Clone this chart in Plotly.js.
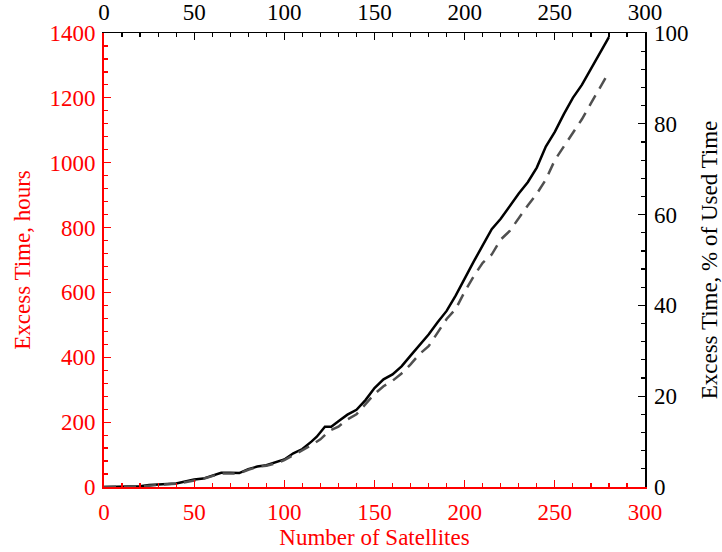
<!DOCTYPE html>
<html>
<head>
<meta charset="utf-8">
<script src="https://cdn.plot.ly/plotly-3.0.1.min.js"></script>
<style>html,body{margin:0;padding:0;background:#fff;}#chart{width:722px;height:552px;}</style>
</head>
<body>
<div id="chart"></div>
<script>
// Number of satellites and excess time (hours), left axis
const satsHours = [0,5,10,15,20,25,30,35,40,45,50,55,60,65,70,75,80,85,90,95,100,105,110,115,118,122.5,126,130,135,140,145,150,155,160,165,170,175,180,185,190,195,200,205,210,215,220,225,230,235,240,245,250,255,260,265,270,275,280];
const excessHours = [0,0,0,1,2,6,8,9,11,17,23,26,36,44,44,43,55,63,67,75,85,104,117,140,155,186,186,203,223,238,268,305,332,347,372,405,438,470,508,543,590,645,695,745,795,827,868,905,940,985,1050,1095,1150,1200,1240,1290,1340,1387];

// Excess time as % of used time, right axis
const satsPct = [0,10,20,25,30,35,40,45,50,55,60,65,70,75,80,85,90,95,100,105,110,115,120,125,130,135,140,145,150,155,160,165,170,175,180,185,190,195,200,205,210,215,220,225,230,235,240,245,250,255,260,265,270,275,280];
const excessPct = [0,0,0.1,0.3,0.5,0.6,0.7,1.1,1.5,1.8,2.4,3.0,3.0,3.0,3.8,4.4,4.7,5.2,5.9,7.0,8.0,9.2,10.5,12.4,13.3,14.9,16.0,18.2,20.5,22.2,23.4,25.0,27.0,29.3,31.0,34.0,37.0,39.2,43.0,46.4,49.4,51.2,54.5,56.4,59.3,62.0,64.6,67.7,72.0,75.0,78.0,81.0,84.5,88.0,91.4];

const FONT = 'Liberation Serif, Times New Roman, serif';
const RED = '#ff0000';
const FS = 23;

const traces = [
  {x: satsHours, y: excessHours, type: 'scatter', mode: 'lines',
   line: {color: '#000000', width: 2.5}, xaxis: 'x', yaxis: 'y', showlegend: false},
  {x: satsPct, y: excessPct, type: 'scatter', mode: 'lines',
   line: {color: '#505050', width: 2.5, dash: '12px,8px'}, xaxis: 'x2', yaxis: 'y2', showlegend: false}
];

function ax(color, lw, extra) {
  return Object.assign({
    showline: true, linecolor: color, linewidth: lw,
    ticks: 'inside', ticklen: 7, tickwidth: 1.2, tickcolor: color,
    tickfont: {family: FONT, size: FS, color: color},
    showgrid: false, zeroline: false, fixedrange: true
  }, extra);
}

const layout = {
  width: 722, height: 552,
  margin: {l: 104, r: 77, t: 33, b: 65},
  paper_bgcolor: '#ffffff', plot_bgcolor: '#ffffff',
  font: {family: FONT},
  xaxis: ax(RED, 2, {range: [0, 300], dtick: 50, tick0: 0, side: 'bottom', anchor: 'y',
    ticklabelstandoff: 3,
    minor: {dtick: 10, ticklen: 4, tickcolor: RED, ticks: 'inside'},
    title: {text: 'Number of Satellites', font: {family: FONT, size: FS, color: RED}, standoff: 4}}),
  xaxis2: ax('#000000', 1.5, {range: [0, 300], dtick: 50, tick0: 0, side: 'top', overlaying: 'x', anchor: 'y2',
    ticklabelstandoff: 2,
    minor: {dtick: 10, ticklen: 4, tickcolor: '#000000', ticks: 'inside'}}),
  yaxis: ax(RED, 2, {range: [0, 1400], dtick: 200, tick0: 0, side: 'left', anchor: 'x',
    ticklabelstandoff: 2,
    minor: {dtick: 40, ticklen: 4, tickcolor: RED, ticks: 'inside'},
    title: {text: 'Excess Time, hours', font: {family: FONT, size: FS, color: RED}, standoff: 12}}),
  yaxis2: ax('#000000', 1.5, {range: [0, 100], dtick: 20, tick0: 0, side: 'right', overlaying: 'y', anchor: 'x2',
    ticklabelstandoff: 3,
    minor: {dtick: 4, ticklen: 4, tickcolor: '#000000', ticks: 'inside'},
    title: {text: 'Excess Time, % of Used Time', font: {family: FONT, size: FS, color: '#000000'}, standoff: 14}})
};

Plotly.newPlot('chart', traces, layout, {displayModeBar: false, staticPlot: true});
</script>
</body>
</html>
